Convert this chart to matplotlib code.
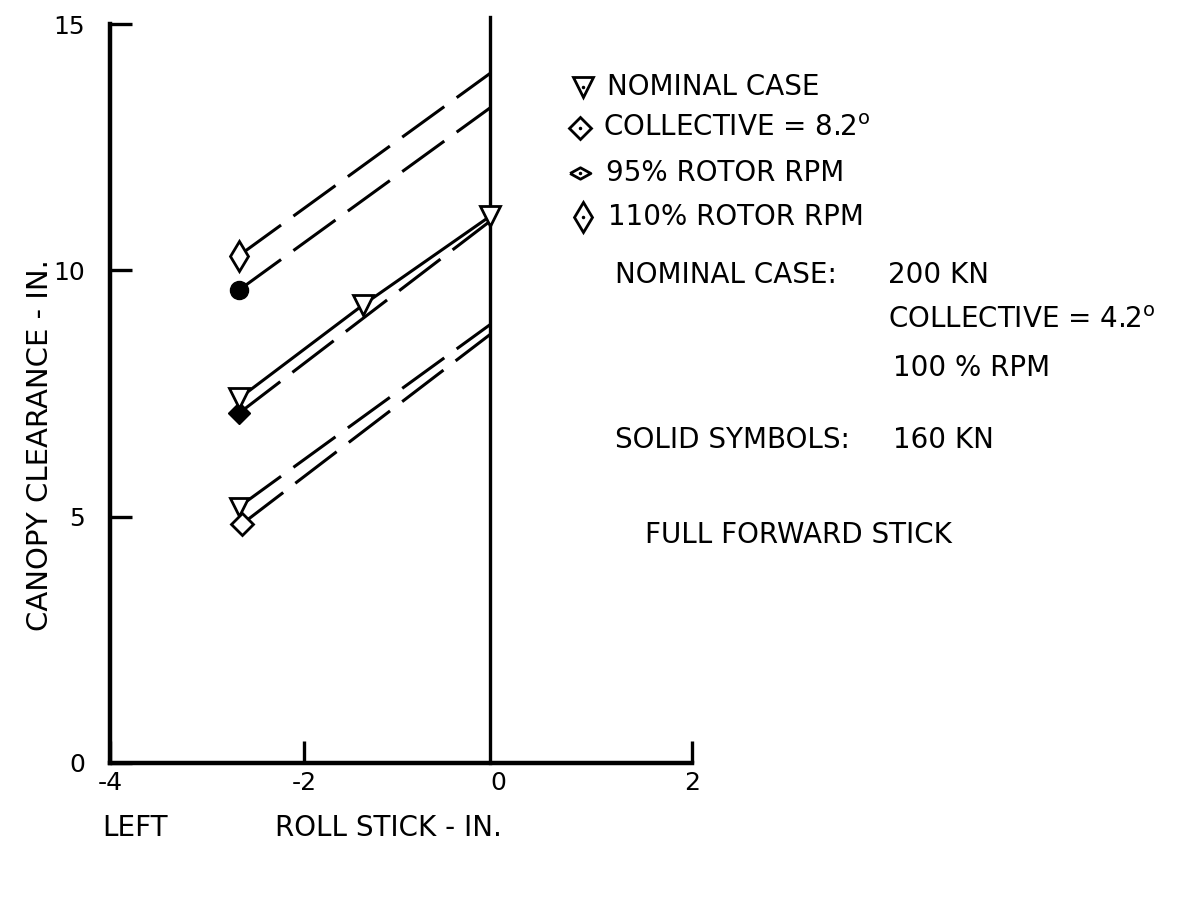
import matplotlib
matplotlib.use("Agg")
import matplotlib.pyplot as plt

# values (roll stick in, canopy clearance in)
x_left = -2.67
x_end = -0.08

x_nominal = [-2.67, -1.39, -0.08]
y_nominal = [7.4, 9.3, 11.1]

x_rpm110 = [x_left, x_end]
y_rpm110 = [10.3, 14.0]

x_solid_circle = [x_left, x_end]
y_solid_circle = [9.6, 13.3]

x_solid_diamond = [x_left, x_end]
y_solid_diamond = [7.1, 11.0]

x_low_tri = [x_left, x_end]
y_low_tri = [5.2, 8.9]

x_coll = [-2.64, x_end]
y_coll = [4.85, 8.7]

xticks = [-4, -2, 0, 2]
yticks = [0, 5, 10, 15]

W, H = 1177, 902
plt.rcParams['font.family'] = ['DejaVu Sans']

fig = plt.figure(figsize=(W / 100, H / 100), dpi=100)
ax = fig.add_axes([110 / W, 1 - 763 / H, (692 - 110) / W, (763 - 24) / H])

def fx(px):
    return px / W

def fy(py):
    return 1 - py / H

lw = 2.2
dash = (17, 5)
wide_diamond = [(-1, 0), (0, 0.55), (1, 0), (0, -0.55), (-1, 0)]

# vertical line at zero stick
ax.plot([x_end, x_end], [0, 15.15], color='k', lw=2.4, clip_on=False)

# upper dashed lines
ax.plot(x_rpm110, y_rpm110, color='k', lw=lw, dashes=dash)
ax.plot(x_rpm110[0], y_rpm110[0], marker='d', ms=15, mfc='white', mec='k', mew=2)
ax.plot(x_solid_circle, y_solid_circle, color='k', lw=lw, dashes=dash)
ax.plot(x_solid_circle[0], y_solid_circle[0], marker='o', ms=13, color='k')

# nominal case
ax.plot(x_solid_diamond, y_solid_diamond, color='k', lw=lw, dashes=dash)
ax.plot(x_solid_diamond[0], y_solid_diamond[0], marker='D', ms=11, color='k')
ax.plot(x_nominal, y_nominal, color='k', lw=lw, marker='v', ms=14,
        mfc='white', mec='k', mew=2)

# lower pair
ax.plot(x_low_tri, y_low_tri, color='k', lw=lw, dashes=dash)
ax.plot(x_coll, y_coll, color='k', lw=lw, dashes=dash)
ax.plot(x_low_tri[0], y_low_tri[0], marker='v', ms=13, mfc='white', mec='k', mew=2)
ax.plot(x_coll[0], y_coll[0], marker='D', ms=11, mfc='white', mec='k', mew=2)

ax.set_xlim(-4, 2)
ax.set_ylim(0, 15)
ax.set_xticks(xticks)
ax.set_yticks(yticks)
ax.set_xticklabels([str(t) for t in xticks])
ax.set_yticklabels([str(t) for t in yticks])
ax.tick_params(direction='in', length=16, width=2.4, labelsize=18)
ax.tick_params(axis='y', pad=18)
ax.tick_params(axis='x', pad=6)
# no separate tick mark at 0, the vertical line stands there
ax.xaxis.get_major_ticks()[2].tick1line.set_visible(False)
for s in ['top', 'right']:
    ax.spines[s].set_visible(False)
for s in ['left', 'bottom']:
    ax.spines[s].set_linewidth(3.2)

# legend block
legend_items = [
    ('v', 14, 583, 87, 607, 'NOMINAL CASE'),
    ('D', 11, 580, 128, 603, 'COLLECTIVE = 8.2$^{\\mathregular{o}}$'),
    (wide_diamond, 15, 580, 173, 606, '95% ROTOR RPM'),
    ('d', 15, 583, 217, 608, '110% ROTOR RPM'),
]
for mk, ms, mx, my, tx, label in legend_items:
    ax.plot([fx(mx)], [fy(my)], marker=mk, ms=ms, mfc='white', mec='k', mew=2,
            transform=fig.transFigure, clip_on=False)
    ax.plot([fx(mx)], [fy(my)], marker='.', ms=3, color='k',
            transform=fig.transFigure, clip_on=False)
    fig.text(fx(tx), fy(my), label, fontsize=20, va='center', ha='left')

notes = [
    (615, 275, 'NOMINAL CASE:'),
    (888, 275, '200 KN'),
    (888, 320, 'COLLECTIVE = 4.2$^{\\mathregular{o}}$'),
    (893, 368, '100 % RPM'),
    (615, 440, 'SOLID SYMBOLS:'),
    (893, 440, '160 KN'),
    (645, 535, 'FULL FORWARD STICK'),
]
for tx, ty, label in notes:
    fig.text(fx(tx), fy(ty), label, fontsize=20, va='center', ha='left')

fig.text(fx(40), fy(445), 'CANOPY CLEARANCE - IN.', rotation=90, fontsize=21,
         va='center', ha='center')
fig.text(fx(102), fy(828), 'LEFT', fontsize=20, va='center', ha='left')
fig.text(fx(275), fy(828), 'ROLL STICK - IN.', fontsize=20, va='center', ha='left')

fig.savefig('out.png', dpi=100)
